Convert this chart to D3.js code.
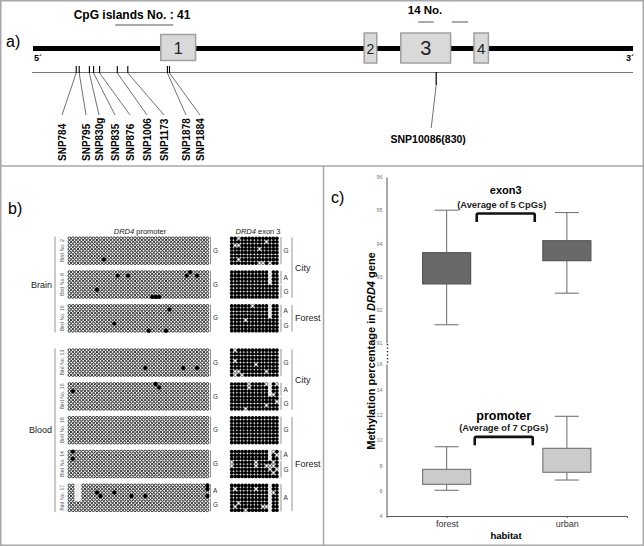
<!DOCTYPE html>
<html>
<head>
<meta charset="utf-8">
<script src="https://cdn.jsdelivr.net/npm/d3@7"></script>
<style>
body { margin: 0; background: #fff; }
svg { display: block; }
text { font-family: "Liberation Sans", Arial, Helvetica, sans-serif; }
</style>
</head>
<body>
<svg width="644" height="546"></svg>
<script>
var svg = d3.select('svg');

/* ---------- panel a data (positions in % of the gene drawing) ---------- */
var exonLabels = ['1', '2', '3', '4'];
var exonStart = [21.3, 55.2, 61.3, 73.5];
var exonEnd = [27.1, 57.3, 69.6, 75.9];
var snpNames = ['SNP784', 'SNP795', 'SNP830g', 'SNP835', 'SNP876', 'SNP1006', 'SNP1173', 'SNP1878', 'SNP1884'];
var snpPos = [7.2, 7.7, 9.4, 10.1, 11.1, 14.05, 15.8, 22.4, 22.75];
var snpExonName = 'SNP10086(830)';
var snpExonPos = 67.2;
var cpgTitle = 'CpG islands No. : 41';
var cpgSpan = [13.7, 23.4];
var exonCpgTitle = '14 No.';
var exonCpgSpans = [[64.2, 66.8], [69.8, 72.5]];

/* ---------- panel b data ---------- */
var birdIds = [2, 6, 10, 13, 15, 16, 14, 17];
var tissueLabels = ['Brain', 'Blood'];
var tissueFrom = [0, 3];
var tissueTo = [2, 7];
var habitatLabels = ['City', 'Forest', 'City', 'Forest'];
var habitatFrom = [0, 2, 3, 5];
var habitatTo = [1, 2, 4, 7];
var promoterCpGs = 41;
var exonCpGs = 14;
var clones = 8;
// methylated CpGs in the promoter, [clone, CpG]
var promMeth = [
    [[6, 10]],
    [[1, 14], [1, 17], [1, 34], [0, 35], [1, 37], [5, 8], [7, 24], [7, 25], [7, 26]],
    [[1, 29], [5, 13], [7, 23], [7, 28]],
    [[5, 22], [5, 33], [5, 37]],
    [[0, 25], [1, 26], [2, 1]],
    [],
    [[0, 1], [2, 1]],
    [[2, 8], [3, 9], [2, 13], [3, 18], [3, 22], [0, 40], [1, 40], [3, 40]]
];
// promoter CpGs with no read, [clone, CpG]
var promMissing = [
    [], [], [], [], [], [], [],
    [[0, 2], [1, 2], [2, 2], [3, 2], [4, 2], [0, 3], [1, 3], [2, 3], [3, 3], [4, 3]]
];
// unmethylated CpGs in exon 3, [clone, CpG]
var exonUnmeth = [
    [[0, 2], [2, 1], [2, 2], [1, 10], [3, 8], [6, 2], [7, 8], [7, 9], [7, 11]],
    [],
    [[0, 6], [4, 4]],
    [[0, 1], [3, 1], [4, 7], [6, 10], [6, 1], [6, 2], [7, 1], [7, 3]],
    [[0, 5], [1, 5], [0, 10], [0, 13], [3, 12], [5, 13], [6, 10], [7, 4]],
    [],
    [[0, 12], [1, 13], [3, 0], [4, 0], [3, 7], [4, 7], [4, 10], [3, 12], [4, 11], [4, 12], [5, 11], [5, 13], [6, 12]],
    [[1, 1], [1, 7], [2, 12], [5, 2], [6, 1], [6, 9], [6, 10], [7, 4]]
];
var exonSnpCpG = 11; // CpG lost on the A allele
// allele of each clone range: [allele, first clone, last clone]
var promAlleles = [
    [['G', 0, 7]], [['G', 0, 7]], [['G', 0, 7]], [['G', 0, 7]],
    [['G', 0, 7]], [['G', 0, 7]], [['G', 0, 7]], [['A', 0, 3], ['G', 4, 7]]
];
var exonAlleles = [
    [['G', 0, 7]], [['A', 0, 3], ['G', 4, 7]], [['A', 0, 3], ['G', 4, 7]], [['G', 0, 7]],
    [['A', 0, 3], ['G', 4, 7]], [['G', 0, 7]], [['A', 0, 2], ['G', 3, 7]], [['A', 0, 7]]
];

/* ---------- panel c data ---------- */
var habitats = ['forest', 'urban'];
var exonMin = [91.55, 92.5];
var exonQ1 = [92.78, 93.48];
var exonQ3 = [93.72, 94.08];
var exonMax = [95.0, 94.93];
var promMin = [6.03, 6.84];
var promQ1 = [6.5, 7.45];
var promQ3 = [7.68, 9.34];
var promMax = [9.47, 11.87];
var upperTicks = [91, 92, 93, 94, 95, 96];
var lowerTicks = [4, 6, 8, 10, 12, 14, 16];

/* ---------- frame ---------- */
svg.append('rect')
    .attr('x', 0.75).attr('y', 0.75)
    .attr('width', 642.5).attr('height', 544.5)
    .attr('fill', 'none').attr('stroke', '#a8a8a8').attr('stroke-width', 1.5);
svg.append('line')
    .attr('x1', 0).attr('x2', 644).attr('y1', 166).attr('y2', 166)
    .attr('stroke', '#a8a8a8').attr('stroke-width', 1.5);
svg.append('line')
    .attr('x1', 323.5).attr('x2', 323.5).attr('y1', 166).attr('y2', 546)
    .attr('stroke', '#a8a8a8').attr('stroke-width', 1.5);

/* ---------- panel a ---------- */
var gene = d3.scaleLinear().domain([0, 100]).range([33, 633]);
var pa = svg.append('g');

pa.append('text').attr('x', 6).attr('y', 47).attr('font-size', 16).text('a)');

pa.append('text').attr('x', 132).attr('y', 19)
    .attr('text-anchor', 'middle').attr('font-size', 12).attr('font-weight', 'bold')
    .text(cpgTitle);
pa.append('line')
    .attr('x1', gene(cpgSpan[0])).attr('x2', gene(cpgSpan[1]))
    .attr('y1', 25).attr('y2', 25)
    .attr('stroke', '#aaa').attr('stroke-width', 2);

pa.append('text').attr('x', 425).attr('y', 14)
    .attr('text-anchor', 'middle').attr('font-size', 11.5).attr('font-weight', 'bold')
    .text(exonCpgTitle);
pa.selectAll('line.ecpg')
    .data(exonCpgSpans)
    .enter()
    .append('line')
    .attr('x1', function(d){ return gene(d[0]); })
    .attr('x2', function(d){ return gene(d[1]); })
    .attr('y1', 22).attr('y2', 22)
    .attr('stroke', '#aaa').attr('stroke-width', 2);

// gene body
pa.append('rect')
    .attr('x', gene(0)).attr('y', 46)
    .attr('width', gene(100) - gene(0)).attr('height', 5)
    .attr('fill', '#000');
pa.append('text').attr('x', 34).attr('y', 61).attr('font-size', 9).attr('font-weight', 'bold').text('5\u00b4');
pa.append('text').attr('x', 626).attr('y', 61).attr('font-size', 9).attr('font-weight', 'bold').text('3\u00b4');

pa.selectAll('rect.exon')
    .data(exonLabels)
    .enter()
    .append('rect')
    .attr('x', function(d, i){ return gene(exonStart[i]); })
    .attr('y', function(d, i){ return i === 0 ? 34.5 : 33; })
    .attr('width', function(d, i){ return gene(exonEnd[i]) - gene(exonStart[i]); })
    .attr('height', function(d, i){ return i === 0 ? 26 : 30; })
    .attr('fill', '#d9d9d9').attr('stroke', '#a0a0a0').attr('stroke-width', 1.5);
pa.selectAll('text.exon')
    .data(exonLabels)
    .enter()
    .append('text')
    .attr('x', function(d, i){ return (gene(exonStart[i]) + gene(exonEnd[i])) / 2; })
    .attr('y', function(d, i){ return i === 2 ? 55 : 53.5; })
    .attr('text-anchor', 'middle')
    .attr('font-size', function(d, i){ return [16, 14, 20, 15][i]; })
    .attr('fill', '#222')
    .text(function(d){ return d; });

// SNP track
pa.append('line')
    .attr('x1', 32).attr('x2', gene(100)).attr('y1', 72.5).attr('y2', 72.5)
    .attr('stroke', '#777').attr('stroke-width', 1);

var snpLabelX = [62, 86, 99, 115, 130, 147, 164, 186, 200];
pa.selectAll('line.tick')
    .data(snpPos)
    .enter()
    .append('line')
    .attr('x1', function(d){ return gene(d); })
    .attr('x2', function(d){ return gene(d); })
    .attr('y1', 66).attr('y2', 73)
    .attr('stroke', '#000').attr('stroke-width', 1.1);
pa.selectAll('line.conn')
    .data(snpPos)
    .enter()
    .append('line')
    .attr('x1', function(d){ return gene(d); })
    .attr('y1', 73)
    .attr('x2', function(d, i){ return snpLabelX[i]; })
    .attr('y2', 115)
    .attr('stroke', '#333').attr('stroke-width', 0.7);
pa.selectAll('text.snp')
    .data(snpNames)
    .enter()
    .append('text')
    .attr('transform', function(d, i){ return 'translate(' + snpLabelX[i] + ',161) rotate(-90)'; })
    .attr('dy', '0.36em')
    .attr('font-size', 10).attr('font-weight', 'bold')
    .text(function(d){ return d; });

pa.append('line')
    .attr('x1', gene(snpExonPos)).attr('x2', gene(snpExonPos))
    .attr('y1', 72).attr('y2', 85)
    .attr('stroke', '#000').attr('stroke-width', 1.2);
pa.append('line')
    .attr('x1', gene(snpExonPos)).attr('y1', 85)
    .attr('x2', gene(snpExonPos) - 5).attr('y2', 128)
    .attr('stroke', '#333').attr('stroke-width', 0.7);
pa.append('text')
    .attr('x', gene(snpExonPos) - 8).attr('y', 143)
    .attr('text-anchor', 'middle').attr('font-size', 10.5).attr('font-weight', 'bold')
    .text(snpExonName);

/* ---------- panel b ---------- */
var pb = svg.append('g');
pb.append('text').attr('x', 8).attr('y', 214).attr('font-size', 16).text('b)');

var header = pb.append('text').attr('x', 140).attr('y', 234)
    .attr('text-anchor', 'middle').attr('font-size', 7.5).attr('fill', '#222');
header.append('tspan').attr('font-style', 'italic').text('DRD4');
header.append('tspan').text(' promoter');
var header2 = pb.append('text').attr('x', 258).attr('y', 234)
    .attr('text-anchor', 'middle').attr('font-size', 7.5).attr('fill', '#222');
header2.append('tspan').attr('font-style', 'italic').text('DRD4');
header2.append('tspan').text(' exon 3');

function blockTop(i){ return 236.5 + i * 33.8 + (i >= 3 ? 10.5 : 0); }
var blockH = 28.4;
var rowY = d3.scaleLinear().domain([0, clones - 1]).range([1.8, blockH - 1.8]);
var promX = d3.scaleLinear().domain([0, promoterCpGs - 1]).range([69.4, 207.4]);
var exonX = d3.scaleLinear().domain([0, exonCpGs - 1]).range([231.7, 276.9]);

function has(list, r, c){
    return list.some(function(p){ return p[0] === r && p[1] === c; });
}

birdIds.forEach(function(bird, i){
    var g = pb.append('g').attr('transform', 'translate(0,' + blockTop(i) + ')');

    var pCells = d3.cross(d3.range(clones), d3.range(promoterCpGs)).map(function(rc){
        var s = has(promMeth[i], rc[0], rc[1]) ? 'm' : (has(promMissing[i], rc[0], rc[1]) ? 'x' : 'u');
        return {r: rc[0], c: rc[1], s: s};
    });
    pCells.sort(function(a, b){ return (a.s === 'm') - (b.s === 'm'); });
    g.selectAll('circle.p')
        .data(pCells)
        .enter()
        .append('circle')
        .attr('cx', function(d){ return promX(d.c); })
        .attr('cy', function(d){ return rowY(d.r); })
        .attr('r', function(d){ return d.s === 'm' ? 2.2 : 1.4; })
        .attr('fill', function(d){ return d.s === 'm' ? '#000' : '#fff'; })
        .attr('stroke', function(d){ return d.s === 'm' ? 'none' : (d.s === 'x' ? '#c4c4c4' : '#000'); })
        .attr('stroke-width', function(d){ return d.s === 'x' ? 0.5 : 0.8; });

    var eCells = d3.cross(d3.range(clones), d3.range(exonCpGs)).map(function(rc){
        var aRows = exonAlleles[i].filter(function(a){ return a[0] === 'A' && rc[0] >= a[1] && rc[0] <= a[2]; });
        var s = 'm';
        if (rc[1] === exonSnpCpG && aRows.length) s = 'x';
        else if (has(exonUnmeth[i], rc[0], rc[1])) s = 'u';
        return {r: rc[0], c: rc[1], s: s};
    });
    g.selectAll('circle.e')
        .data(eCells)
        .enter()
        .append('circle')
        .attr('cx', function(d){ return exonX(d.c); })
        .attr('cy', function(d){ return rowY(d.r); })
        .attr('r', function(d){ return d.s === 'm' ? 1.85 : 1.5; })
        .attr('fill', function(d){ return d.s === 'm' ? '#000' : '#fff'; })
        .attr('stroke', function(d){ return d.s === 'x' ? '#bbb' : (d.s === 'u' ? '#000' : 'none'); })
        .attr('stroke-width', 0.5);

    // allele brackets
    [[promAlleles[i], 210.5], [exonAlleles[i], 281]].forEach(function(pair){
        pair[0].forEach(function(a){
            var y1 = rowY(a[1]) - 1.6, y2 = rowY(a[2]) + 1.6;
            g.append('line')
                .attr('x1', pair[1]).attr('x2', pair[1])
                .attr('y1', y1 + 0.4).attr('y2', y2 - 0.4)
                .attr('stroke', '#888').attr('stroke-width', 0.9);
            g.append('text')
                .attr('x', pair[1] + 2.5).attr('y', (y1 + y2) / 2 + 2.2)
                .attr('font-size', 6.5).attr('fill', '#333')
                .text(a[0]);
        });
    });

    g.append('text')
        .attr('transform', 'translate(62,' + (blockH / 2) + ') rotate(-90)')
        .attr('text-anchor', 'middle').attr('dy', '0.35em')
        .attr('font-size', 5.2).attr('fill', '#555')
        .text('Bird No. ' + bird);
});

tissueLabels.forEach(function(t, k){
    var y1 = blockTop(tissueFrom[k]), y2 = blockTop(tissueTo[k]) + blockH;
    pb.append('line').attr('x1', 55).attr('x2', 55).attr('y1', y1).attr('y2', y2)
        .attr('stroke', '#888').attr('stroke-width', 0.9);
    pb.append('text').attr('x', 52).attr('y', (y1 + y2) / 2 + 3)
        .attr('text-anchor', 'end').attr('font-size', 9).attr('fill', '#222')
        .text(t);
});
habitatLabels.forEach(function(h, k){
    var y1 = blockTop(habitatFrom[k]) + 1, y2 = blockTop(habitatTo[k]) + blockH - 1;
    pb.append('line').attr('x1', 292).attr('x2', 292).attr('y1', y1).attr('y2', y2)
        .attr('stroke', '#888').attr('stroke-width', 0.9);
    pb.append('text').attr('x', 295).attr('y', (y1 + y2) / 2 + 3)
        .attr('font-size', 9).attr('fill', '#222')
        .text(h);
});

/* ---------- panel c ---------- */
var pc = svg.append('g');
pc.append('text').attr('x', 331).attr('y', 203).attr('font-size', 16).text('c)');

var x = d3.scalePoint().domain(habitats).range([386.5, 627]).padding(0.5);
var yUp = d3.scaleLinear().domain([91, 96]).range([343, 177]);
var yLo = d3.scaleLinear().domain([4, 16]).range([516, 364]);

function styleAxis(g, size, color){
    g.attr('font-size', size).attr('font-family', null);
    g.select('.domain').attr('stroke', '#555').attr('stroke-width', 1);
    g.selectAll('.tick line').attr('stroke', '#555');
    g.selectAll('.tick text').attr('fill', color);
}

pc.append('g')
    .attr('transform', 'translate(386.5,0)')
    .call(d3.axisLeft(yUp).tickValues(upperTicks).tickFormat(d3.format('d')).tickSize(0).tickPadding(4))
    .call(styleAxis, 5.5, '#777');
pc.append('g')
    .attr('transform', 'translate(386.5,0)')
    .call(d3.axisLeft(yLo).tickValues(lowerTicks).tickFormat(d3.format('d')).tickSize(0).tickPadding(4))
    .call(styleAxis, 5.5, '#777');
pc.append('line')
    .attr('x1', 387.5).attr('x2', 387.5).attr('y1', yUp(91) + 1).attr('y2', yLo(16) - 1)
    .attr('stroke', '#222').attr('stroke-width', 1.4).attr('stroke-dasharray', '1.2,2.3');

pc.append('g')
    .attr('transform', 'translate(0,516)')
    .call(d3.axisBottom(x).tickSize(2).tickPadding(3))
    .call(styleAxis, 9, '#333');

pc.append('text').attr('x', 506).attr('y', 539)
    .attr('text-anchor', 'middle').attr('font-size', 9.5).attr('font-weight', 'bold')
    .text('habitat');

var yTitle = pc.append('text')
    .attr('transform', 'translate(375,351) rotate(-90)')
    .attr('text-anchor', 'middle').attr('font-size', 11).attr('font-weight', 'bold');
yTitle.append('tspan').text('Methylation percentage in ');
yTitle.append('tspan').attr('font-style', 'italic').text('DRD4');
yTitle.append('tspan').text(' gene');

function drawBoxes(y, mins, q1s, q3s, maxs, fill, stroke){
    var g = pc.append('g');
    var boxW = 48, capW = 24;
    g.selectAll('line.whisk')
        .data(habitats)
        .enter()
        .append('line')
        .attr('x1', function(d){ return x(d); })
        .attr('x2', function(d){ return x(d); })
        .attr('y1', function(d, i){ return y(mins[i]); })
        .attr('y2', function(d, i){ return y(maxs[i]); })
        .attr('stroke', '#777').attr('stroke-width', 1.1);
    [mins, maxs].forEach(function(vals){
        g.selectAll(null)
            .data(habitats)
            .enter()
            .append('line')
            .attr('x1', function(d){ return x(d) - capW / 2; })
            .attr('x2', function(d){ return x(d) + capW / 2; })
            .attr('y1', function(d, i){ return y(vals[i]); })
            .attr('y2', function(d, i){ return y(vals[i]); })
            .attr('stroke', '#777').attr('stroke-width', 1.1);
    });
    g.selectAll('rect')
        .data(habitats)
        .enter()
        .append('rect')
        .attr('x', function(d){ return x(d) - boxW / 2; })
        .attr('y', function(d, i){ return y(q3s[i]); })
        .attr('width', boxW)
        .attr('height', function(d, i){ return y(q1s[i]) - y(q3s[i]); })
        .attr('fill', fill).attr('stroke', stroke).attr('stroke-width', 1.2);
}
drawBoxes(yUp, exonMin, exonQ1, exonQ3, exonMax, '#696969', '#555');
drawBoxes(yLo, promMin, promQ1, promQ3, promMax, '#cbcbcb', '#7a7a7a');

function bracket(xm, yTop, title, sub, titleSize, titleY, subY){
    var x1 = xm - 29, x2 = xm + 29;
    pc.append('path')
        .attr('d', 'M' + x1 + ',' + (yTop + 8.5) + 'V' + (yTop + 1.5) + 'Q' + x1 + ',' + yTop + ' ' + (x1 + 1.5) + ',' + yTop +
            'H' + (x2 - 1.5) + 'Q' + x2 + ',' + yTop + ' ' + x2 + ',' + (yTop + 1.5) + 'V' + (yTop + 8.5))
        .attr('fill', 'none').attr('stroke', '#111').attr('stroke-width', 2.6);
    pc.append('text').attr('x', xm).attr('y', titleY)
        .attr('text-anchor', 'middle').attr('font-size', titleSize).attr('font-weight', 'bold')
        .text(title);
    pc.append('text').attr('x', xm + (titleSize > 11.5 ? 0 : -4)).attr('y', subY)
        .attr('text-anchor', 'middle').attr('font-size', 9.3).attr('font-weight', 'bold').attr('fill', '#222')
        .text(sub);
}
var xMid = (x('forest') + x('urban')) / 2;
bracket(xMid - 1, yUp(94.9), 'exon3', '(Average of 5 CpGs)', 11, 194, 208);
bracket(xMid - 3, yLo(10.25), 'promoter', '(Average of 7 CpGs)', 12.5, 420, 431);
</script>
</body>
</html>
